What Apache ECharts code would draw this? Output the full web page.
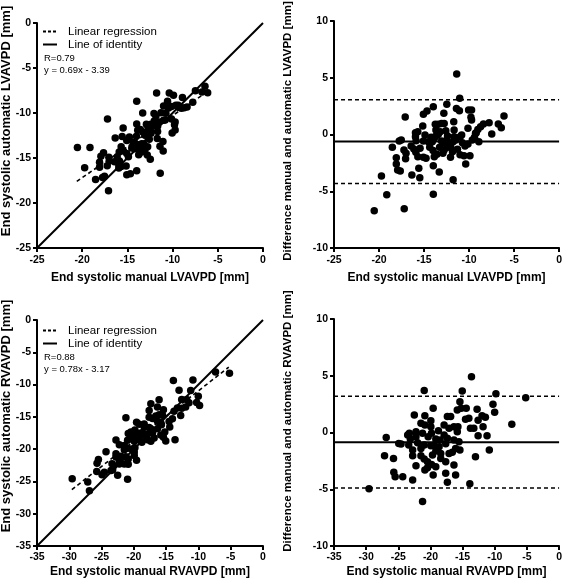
<!DOCTYPE html>
<html><head><meta charset="utf-8">
<script src="https://cdn.jsdelivr.net/npm/echarts@6/dist/echarts.min.js"></script>
<style>html,body{margin:0;padding:0;background:#fff}#c{width:565px;height:583px}</style>
</head><body><div id="c"></div>
<script>
// LV data (mm)
var lvManual = [-11.37,-11.04,-20.53,-17.2,-19.14,-13.97,-19.73,-11.77,-17.09,-13.97,
-12.47,-14.67,-15.07,-11.40,-11.07,-10.05,-9.72,-9.79,-9.72,-6.12,
-6.75,-6.42,-7.77,-8.4,-8.72,-9.02,-7.48,-9.2,-10.12,-11.7,
-12.8,-13.75,-13.42,-13.05,-12.76,-15.14,-12.58,-11.66,-15.95,-15.95,
-17.53,-17.75,-18.52,-17.23,-17.0,-18.08,-17.05,-18.08,-17.93,-17.64,
-16.35,-15.58,-15.47,-13.97,-13.31,-16.13,-15.91,-15.69,-15.07,-14.78,
-13.86,-14.37,-14.0,-13.57,-12.9,-12.06,-11.0,-10.56,-9.9,-10.37,
-14.08,-13.86,-13.68,-13.42,-13.05,-12.76,-12.47,-12.21,-12.03,-11.77,
-11.48,-11.66,-11.0,-10.74,-10.45,-10.12,-9.64,-9.39,-8.91,-9.28,
-10.82,-14.22,-14.52,-15.07,-15.88,-15.44,-16.43,-12.76,-12.39,-13.27,
-11.29,-11.84,-12.39,-13.2,-13.68,-14.89,-15.69];
var lvAuto = [-16.70,-14.23,-13.82,-10.66,-13.84,-8.70,-16.07,-7.79,-18.63,-16.42,
-15.13,-16.74,-16.85,-13.70,-13.17,-12.21,-11.88,-11.30,-11.00,-7.75,
-7.67,-7.02,-8.81,-9.32,-9.41,-9.47,-7.52,-9.36,-10.66,-12.83,
-14.67,-14.65,-14.32,-14.03,-13.74,-15.89,-12.92,-12.06,-16.11,-15.76,
-17.04,-17.18,-17.39,-15.86,-15.34,-16.04,-14.92,-15.48,-14.80,-14.42,
-12.78,-12.60,-11.67,-11.22,-10.01,-14.85,-14.34,-13.74,-13.06,-12.68,
-11.91,-13.24,-12.58,-11.82,-11.24,-10.05,-9.22,-8.69,-8.03,-7.77,
-13.45,-13.52,-13.55,-13.41,-12.48,-11.98,-11.98,-11.43,-10.90,-11.14,
-10.99,-11.47,-10.81,-10.02,-9.44,-9.28,-9.15,-9.14,-8.28,-9.38,
-10.78,-13.97,-13.89,-14.50,-15.34,-14.22,-15.42,-11.39,-11.26,-12.14,
-9.98,-10.33,-12.26,-13.45,-14.08,-14.85,-15.94];
var lvDiff = [5.33,3.19,-6.71,-6.54,-5.30,-5.27,-3.66,-3.98,1.54,2.45,
2.66,2.07,1.78,2.30,2.10,2.16,2.16,1.51,1.28,1.63,
0.92,0.60,1.04,0.92,0.69,0.45,0.04,0.16,0.54,1.13,
1.87,0.9,0.9,0.98,0.98,0.75,0.34,0.4,0.16,-0.19,
-0.49,-0.57,-1.13,-1.37,-1.66,-2.04,-2.13,-2.6,-3.13,-3.22,
-3.57,-2.98,-3.8,-2.75,-3.3,-1.28,-1.57,-1.95,-2.01,-2.1,
-1.95,-1.13,-1.42,-1.75,-1.66,-2.01,-1.78,-1.87,-1.87,-2.6,
-0.63,-0.34,-0.13,-0.01,-0.57,-0.78,-0.49,-0.78,-1.13,-0.63,
-0.49,-0.19,-0.19,-0.72,-1.01,-0.84,-0.49,-0.25,-0.63,0.1,
-0.04,-0.25,-0.63,-0.57,-0.54,-1.22,-1.01,-1.37,-1.13,-1.13,
-1.31,-1.51,-0.13,0.25,0.4,-0.04,0.25];
// RV data (mm)
var rvManual = [-13.62,-20.97,-15.06,-9.82,-5.19,-29.55,-21.23,-13.88,-26.88,-27.14,
-25.75,-25.7,-25.49,-24.31,-22.77,-17.37,-7.35,-10.28,-10.02,-10.85,
-11.2,-12.59,-11.46,-12.59,-12.75,-13.0,-11.82,-13.26,-14.44,-14.03,
-14.55,-15.21,-15.42,-15.83,-16.86,-17.37,-16.35,-15.73,-17.11,-17.88,
-17.37,-16.35,-15.57,-15.42,-16.09,-16.6,-17.11,-17.63,-16.35,-16.09,
-17.63,-19.58,-20.87,-22.25,-22.77,-23.38,-24.57,-24.93,-23.54,-23.13,
-22.25,-22.0,-22.77,-21.48,-20.97,-20.46,-19.84,-20.46,-19.17,-19.68,
-19.17,-18.4,-19.94,-19.43,-18.66,-21.48,-20.97,-22.51,-20.87,-19.58,
-19.94,-21.48,-20.87,-19.94,-18.76,-19.84,-20.36,-21.23,-22.25,-23.28,
-17.88,-13.78,-11.98,-18.5,-19.17,-17.63,-18.4,-15.83];
var rvAuto = [-18.54,-24.66,-18.72,-13.24,-8.26,-24.60,-15.14,-9.37,-26.45,-25.10,
-23.47,-22.19,-21.60,-20.42,-18.58,-12.98,-8.07,-12.76,-11.80,-9.31,
-10.92,-12.31,-12.80,-13.66,-14.79,-10.87,-12.33,-13.63,-16.57,-15.28,
-15.71,-17.34,-18.14,-17.81,-18.26,-18.77,-16.86,-16.24,-17.48,-17.66,
-16.86,-15.69,-14.76,-13.88,-14.69,-14.85,-15.27,-15.06,-13.49,-12.35,
-14.03,-15.84,-17.57,-19.33,-21.23,-22.28,-23.56,-23.97,-23.32,-22.56,
-21.88,-21.10,-20.73,-19.44,-18.63,-17.89,-17.03,-17.36,-16.16,-17.70,
-17.54,-16.56,-18.78,-18.33,-17.41,-20.08,-19.87,-24.05,-22.35,-21.71,
-20.98,-22.29,-21.53,-20.45,-18.92,-19.77,-19.99,-21.16,-22.32,-23.21,
-18.54,-14.15,-13.46,-17.84,-18.60,-16.63,-16.12,-15.90];
var rvDiff = [4.92,3.69,3.66,3.42,3.07,-4.95,-6.09,-4.51,-0.43,-2.04,
-2.28,-3.51,-3.89,-3.89,-4.19,-4.39,0.72,2.48,1.78,-1.54,
-0.28,-0.28,1.34,1.07,2.04,-2.13,0.51,0.37,2.13,1.25,
1.16,2.13,2.72,1.98,1.4,1.4,0.51,0.51,0.37,-0.22,
-0.51,-0.66,-0.81,-1.54,-1.4,-1.75,-1.84,-2.57,-2.86,-3.74,
-3.6,-3.74,-3.3,-2.92,-1.54,-1.1,-1.01,-0.96,-0.22,-0.57,
-0.37,-0.9,-2.04,-2.04,-2.34,-2.57,-2.81,-3.1,-3.01,-1.98,
-1.63,-1.84,-1.16,-1.1,-1.25,-1.4,-1.1,1.54,1.48,2.13,
1.04,0.81,0.66,0.51,0.16,-0.07,-0.37,-0.07,0.07,-0.07,
0.66,0.37,1.48,-0.66,-0.57,-1.0,-2.28,0.07];

// regression line endpoints and identity
var lvRegX = [-20.6, -6.4], lvRegY = [-17.6, -7.8];
var rvRegX = [-29.6, -5.3], rvRegY = [-26.26, -7.30];
var lvIdentity = [-25, 0], rvIdentity = [-35, 0];
// Bland-Altman: bias, upper LoA, lower LoA
var lvBA = [-0.62, 3.07, -4.32];
var rvBA = [-0.86, 3.19, -4.90];

var lvTicks = {min: -25, max: 0, interval: 5};
var rvTicks = {min: -35, max: 0, interval: 5};
var baTicks = {min: -10, max: 10, interval: 5};

var FONT = 'Liberation Sans, Arial, sans-serif';
function zip(a, b) { return a.map(function (v, i) { return [v, b[i]]; }); }
function axis(gi, t, name, isX, gap) {
  var o = {
    gridIndex: gi, type: 'value', min: t.min, max: t.max, interval: t.interval,
    axisLine: {onZero: false, lineStyle: {color: '#000', width: 2}},
    axisTick: {length: 4, lineStyle: {color: '#000', width: 2}},
    splitLine: {show: false},
    axisLabel: {color: '#000', fontWeight: 'bold', fontSize: 10.5, fontFamily: FONT, margin: 6}
  };
  if (isX) {
    o.name = name; o.nameLocation = 'middle'; o.nameGap = gap;
    o.axisLabel.margin = gap > 22 ? 7 : 6;
    o.nameTextStyle = {color: '#000', fontWeight: 'bold', fontSize: 12, fontFamily: FONT};
  }
  return o;
}
function hline(xi, yi, x0, x1, v, dashed) {
  return {type: 'line', xAxisIndex: xi, yAxisIndex: yi, data: [[x0, v], [x1, v]], symbol: 'none',
    silent: true, z: 1, lineStyle: {color: '#000', width: dashed ? 1.5 : 2, type: dashed ? [4, 3] : 'solid'}};
}
function seg(xi, yi, xs, ys, dashed) {
  return {type: 'line', xAxisIndex: xi, yAxisIndex: yi, data: zip(xs, ys), symbol: 'none',
    silent: true, z: dashed ? 3 : 1, lineStyle: {color: '#000', width: dashed ? 1.6 : 2, type: dashed ? [4, 3] : 'solid'}};
}
function scat(xi, yi, xs, ys) {
  return {type: 'scatter', xAxisIndex: xi, yAxisIndex: yi, data: zip(xs, ys), symbol: 'circle',
    symbolSize: 7.5, z: 2, itemStyle: {color: '#000', opacity: 1}};
}
function ytitle(x, y, text, size) {
  return {type: 'text', x: x, y: y, rotation: Math.PI / 2,
    style: {text: text, fill: '#000', font: 'bold ' + size + 'px ' + FONT, textAlign: 'center', textVerticalAlign: 'middle'}};
}
function legend(top, r, eq) {
  return [
    {type: 'line', shape: {x1: 43, y1: top, x2: 57, y2: top}, style: {stroke: '#000', lineWidth: 2, lineDash: [3, 2]}},
    {type: 'text', x: 68, y: top, style: {text: 'Linear regression', fill: '#000', font: '11.5px ' + FONT, textVerticalAlign: 'middle'}},
    {type: 'line', shape: {x1: 43, y1: top + 13, x2: 57, y2: top + 13}, style: {stroke: '#000', lineWidth: 2}},
    {type: 'text', x: 68, y: top + 13, style: {text: 'Line of identity', fill: '#000', font: '11.5px ' + FONT, textVerticalAlign: 'middle'}},
    {type: 'text', x: 44, y: top + 26.5, style: {text: r, fill: '#000', font: '9.5px ' + FONT, textVerticalAlign: 'middle'}},
    {type: 'text', x: 44, y: top + 38.5, style: {text: eq, fill: '#000', font: '9.5px ' + FONT, textVerticalAlign: 'middle'}}
  ];
}

var option = {
  animation: false,
  backgroundColor: '#fff',
  grid: [
    {left: 37, top: 23, width: 226, height: 225},
    {left: 334, top: 21, width: 227, height: 227},
    {left: 37, top: 320, width: 226, height: 226},
    {left: 334, top: 319, width: 227, height: 227}
  ],
  xAxis: [
    axis(0, lvTicks, 'End systolic manual LVAVPD [mm]', true, 24),
    axis(1, lvTicks, 'End systolic manual LVAVPD [mm]', true, 24),
    axis(2, rvTicks, 'End systolic manual RVAVPD [mm]', true, 20),
    axis(3, rvTicks, 'End systolic manual RVAVPD [mm]', true, 20)
  ],
  yAxis: [
    axis(0, lvTicks, '', false),
    axis(1, baTicks, '', false),
    axis(2, rvTicks, '', false),
    axis(3, baTicks, '', false)
  ],
  series: [
    seg(0, 0, lvIdentity, lvIdentity, false),
    scat(0, 0, lvManual, lvAuto),
    seg(0, 0, lvRegX, lvRegY, true),
    hline(1, 1, lvTicks.min, lvTicks.max, lvBA[0], false),
    hline(1, 1, lvTicks.min, lvTicks.max, lvBA[1], true),
    hline(1, 1, lvTicks.min, lvTicks.max, lvBA[2], true),
    scat(1, 1, lvManual, lvDiff),
    seg(2, 2, rvIdentity, rvIdentity, false),
    scat(2, 2, rvManual, rvAuto),
    seg(2, 2, rvRegX, rvRegY, true),
    hline(3, 3, rvTicks.min, rvTicks.max, rvBA[0], false),
    hline(3, 3, rvTicks.min, rvTicks.max, rvBA[1], true),
    hline(3, 3, rvTicks.min, rvTicks.max, rvBA[2], true),
    scat(3, 3, rvManual, rvDiff)
  ],
  graphic: [
    ytitle(6, 121, 'End systolic automatic LVAVPD [mm]', 13),
    ytitle(288, 131, 'Difference manual and automatic LVAVPD [mm]', 11.5),
    ytitle(6, 416, 'End systolic automatic RVAVPD [mm]', 13),
    ytitle(288, 421, 'Difference manual and automatic RVAVPD [mm]', 11.5)
  ].concat(legend(31.5, 'R=0.79', 'y = 0.69x - 3.39'))
   .concat(legend(330.5, 'R=0.88', 'y = 0.78x - 3.17'))
};
var chart = echarts.init(document.getElementById('c'), null, {renderer: 'canvas'});
chart.setOption(option);
</script></body></html>
